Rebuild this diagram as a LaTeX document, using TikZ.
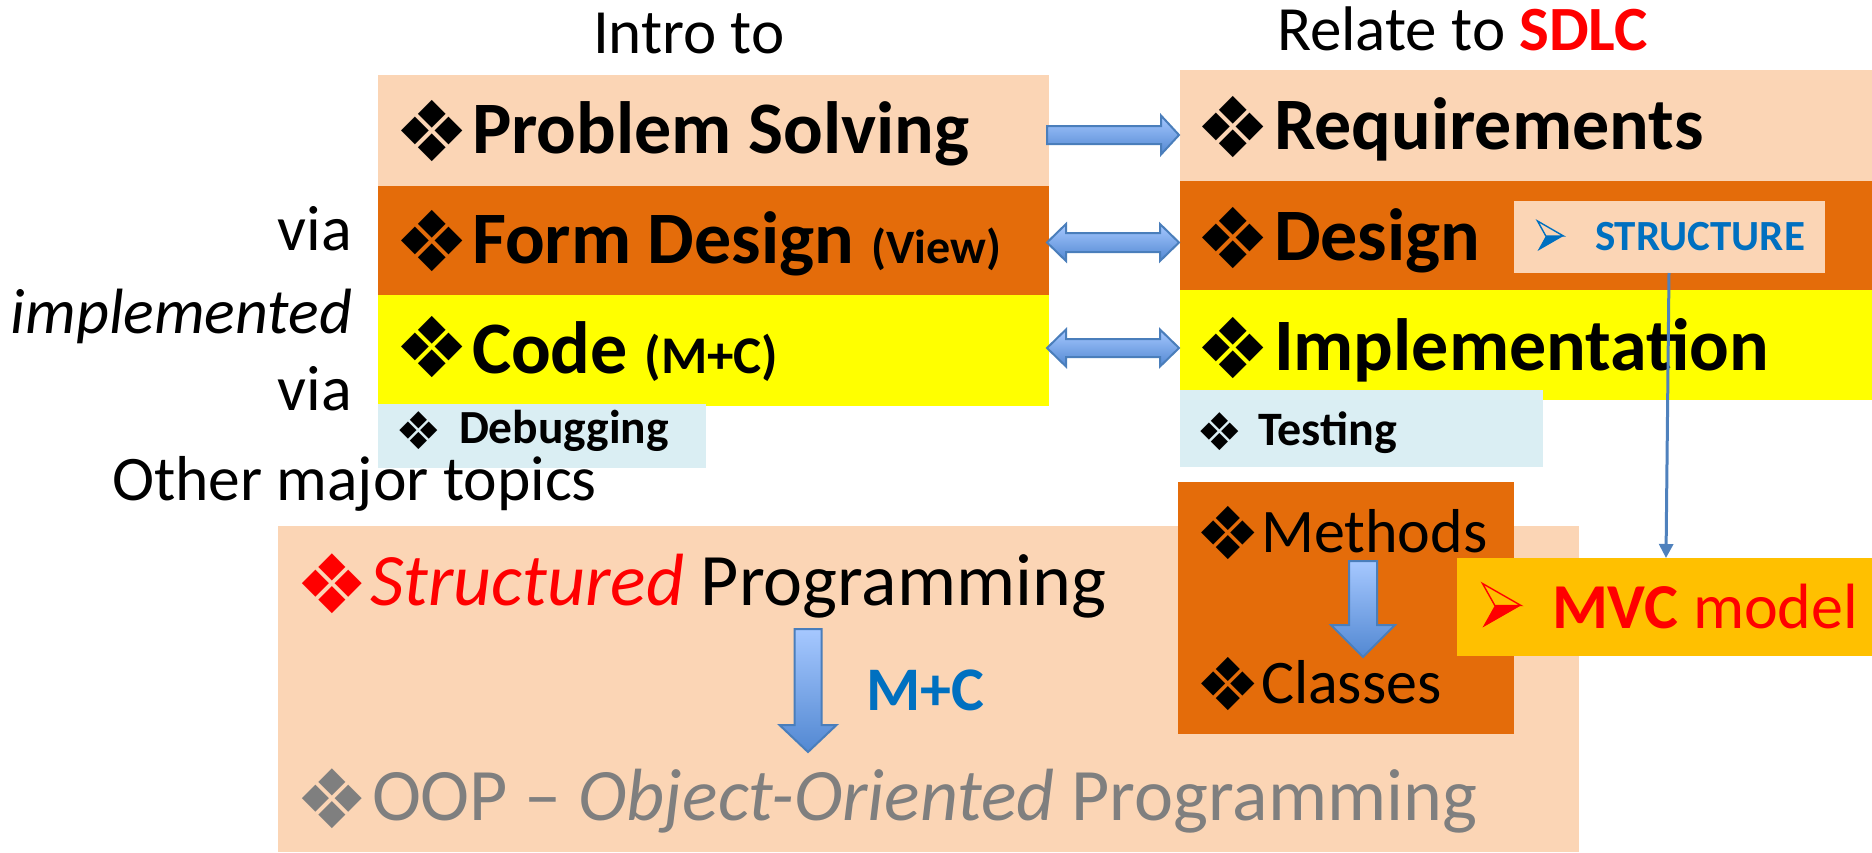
\documentclass[tikz,border=0pt]{standalone}
\usepackage{fontspec}
\setmainfont{Carlito}
\newfontfamily\dv{DejaVu Sans}
\usetikzlibrary{arrows.meta}
\definecolor{peach}{HTML}{FBD5B5}
\definecolor{dorange}{HTML}{E46C0A}
\definecolor{yel}{HTML}{FFFF00}
\definecolor{lblue}{HTML}{DAEEF3}
\definecolor{gold}{HTML}{FFC000}
\definecolor{sblue}{HTML}{0070C0}
\definecolor{aline}{HTML}{4A7EBB}
\definecolor{atop}{HTML}{A6C8FF}
\definecolor{abot}{HTML}{5288D2}
\definecolor{tline}{HTML}{4F81BD}
\definecolor{red}{HTML}{FF0000}
\definecolor{gry}{HTML}{7F7F7F}
\newcommand\fs[1]{\fontsize{#1}{#1}\selectfont}
\newcommand\bul[2][black]{\raisebox{0pt}[0.8\height][0pt]{\color{#1}\dv\fontsize{#2}{#2}\selectfont ❖}}
% right block arrow: x1 x2 yc shafthalf headhalf headlen
\newcommand\rarrow[6]{\path[barrow] (#1,#3-#4) -- (#2-#6,#3-#4) -- (#2-#6,#3-#5) -- (#2,#3) -- (#2-#6,#3+#5) -- (#2-#6,#3+#4) -- (#1,#3+#4) -- cycle;}
\newcommand\darrow[6]{\path[barrow] (#1+#6,#3-#4) -- (#2-#6,#3-#4) -- (#2-#6,#3-#5) -- (#2,#3) -- (#2-#6,#3+#5) -- (#2-#6,#3+#4) -- (#1+#6,#3+#4) -- (#1+#6,#3+#5) -- (#1,#3) -- (#1+#6,#3-#5) -- cycle;}
% down arrow: xc y1 y2 shafthalf headhalf headlen
\newcommand\varrow[6]{\path[barrow] (#1-#4,#2) -- (#1+#4,#2) -- (#1+#4,#3-#6) -- (#1+#5,#3-#6) -- (#1,#3) -- (#1-#5,#3-#6) -- (#1-#4,#3-#6) -- cycle;}
% arrowhead bullet: colour, left x, top y, width, height
\newcommand\arrbul[5]{%
  \draw[#1, line width=1.4pt, line join=miter] (#2,#3) -- (#2+#4,#3+#5/2) -- (#2+#4*0.32,#3+#5/2) -- cycle;
  \fill[#1] (#2+#4*0.32,#3+#5/2) -- (#2+#4,#3+#5/2) -- (#2,#3+#5) -- cycle;}
\begin{document}
\begin{tikzpicture}[x=1pt,y=-1pt,
  box/.style={inner sep=0pt, outer sep=0pt, anchor=north west, draw=none},
  txt/.style={inner sep=0pt, outer sep=0pt, anchor=base west},
  txte/.style={inner sep=0pt, outer sep=0pt, anchor=base east},
  barrow/.style={draw=aline, line width=2pt, line join=miter, top color=atop, bottom color=abot},
  thinarrow/.style={draw=tline, line width=3pt, -{Triangle[length=14pt,width=14pt]}}]
\useasboundingbox (0,0) rectangle (1872,852);
% boxes
\node[box, fill=peach, minimum width=1301pt, minimum height=326pt] (other) at (278,526) {};
\node[box, fill=peach, minimum width=671pt, minimum height=111pt] (ps) at (378,75) {};
\node[box, fill=dorange, minimum width=671pt, minimum height=109pt] (fd) at (378,186) {};
\node[box, fill=yel, minimum width=671pt, minimum height=111pt] (cd) at (378,295) {};
\node[box, fill=lblue, minimum width=328pt, minimum height=64pt] (dbg) at (378,404) {};
\node[box, fill=peach, minimum width=692pt, minimum height=111pt] (req) at (1180,70) {};
\node[box, fill=dorange, minimum width=692pt, minimum height=109pt] (des) at (1180,181) {};
\node[box, fill=yel, minimum width=692pt, minimum height=110pt] (imp) at (1180,290) {};
\node[box, fill=lblue, minimum width=363pt, minimum height=77pt] (tst) at (1180,390) {};
\node[box, fill=peach, minimum width=311pt, minimum height=72pt] (str) at (1514,201) {};
\node[box, fill=dorange, minimum width=336pt, minimum height=252pt] (meth) at (1178,482) {};
\node[box, fill=gold, minimum width=415pt, minimum height=98pt] (mvc) at (1457,558) {};
% headings
\node[txt] (intro) at (593,53) {\fs{63}Intro to};
\node[txt] (relate) at (1277,50) {\fs{63}Relate to \textcolor{red}{\textbf{SDLC}}};
\node[txte] (via1) at (352,250) {\fs{64}via};
\node[txte] (impl) at (352,333) {\fs{64}\textit{implemented}};
\node[txte] (via2) at (352,410) {\fs{64}via};
\node[txt] (omt) at (112,500) {\fs{63.5}Other major topics};
% left column
\node[txt] (b1) at (394,161) {\bul{84}};
\node[txt] (t1) at (472,153) {\fs{74}\bfseries Problem Solving};
\node[txt] (b2) at (394,271) {\bul{84}};
\node[txt] (t2) at (472,263) {\fs{74}\bfseries Form Design {\fs{48}(View)}};
\node[txt] (b3) at (394,377) {\bul{84}};
\node[txt] (t3) at (472,373) {\fs{74}\bfseries Code {\fs{53}(M+C)}};
\node[txt] (b4) at (395,449) {\bul{52}};
\node[txt] (t4) at (459,443) {\fs{47.5}\bfseries Debugging};
% right column
\node[txt] (b5) at (1195,157) {\bul{84}};
\node[txt] (t5) at (1274,149) {\fs{74}\bfseries Requirements};
\node[txt] (b6) at (1195,268) {\bul{84}};
\node[txt] (t6) at (1274,260) {\fs{74}\bfseries Design};
\node[txt] (b7) at (1195,378) {\bul{84}};
\node[txt] (t7) at (1274,370) {\fs{74}\bfseries Implementation};
\node[txt] (b8) at (1196,450) {\bul{52}};
\node[txt] (t8) at (1258,445) {\fs{48}\bfseries Testing};
\arrbul{sblue}{1537.5}{221}{26}{30}
\node[txt] (s2) at (1595,250) {\fs{43}\bfseries\color{sblue}STRUCTURE};
\node[txt] (b9) at (1195,559) {\bul{73}};
\node[txt] (t9) at (1261,552) {\fs{62}Methods};
\node[txt] (b10) at (1195,710) {\bul{73}};
\node[txt] (t10) at (1261,703) {\fs{62}Classes};
\arrbul{red}{1482.5}{583.5}{38.5}{44}
\node[txt] (m2) at (1552,628) {\fs{64}\color{red}\textbf{MVC} model};
% bottom
\node[txt] (b11) at (295,613) {\bul[red]{82}};
\node[txt] (t11) at (370,605) {\fs{74}\textcolor{red}{\textit{Structured}} Programming};
\node[txt] (b12) at (295,828) {\bul[gry]{82}};
\node[txt] (t12) at (372,820) {\fs{74}\color{gry}OOP -- \textit{Object-Oriented} Programming};
\node[txt] (mc) at (866,710) {\fs{62}\bfseries\color{sblue}M+C};
% block arrows
\rarrow{1047}{1179}{135}{9}{19.5}{18}
\darrow{1047}{1179}{242.5}{9.5}{18.5}{19}
\darrow{1047}{1179}{348}{9}{18.5}{19}
\varrow{808}{629}{752}{13.5}{28.5}{27}
\varrow{1363}{561}{657}{14}{32}{32}
% thin arrow
\draw[thinarrow] ([xshift=-0.5pt]str.south) -- ([xshift=1.5pt]mvc.north);
\end{tikzpicture}
\end{document}
